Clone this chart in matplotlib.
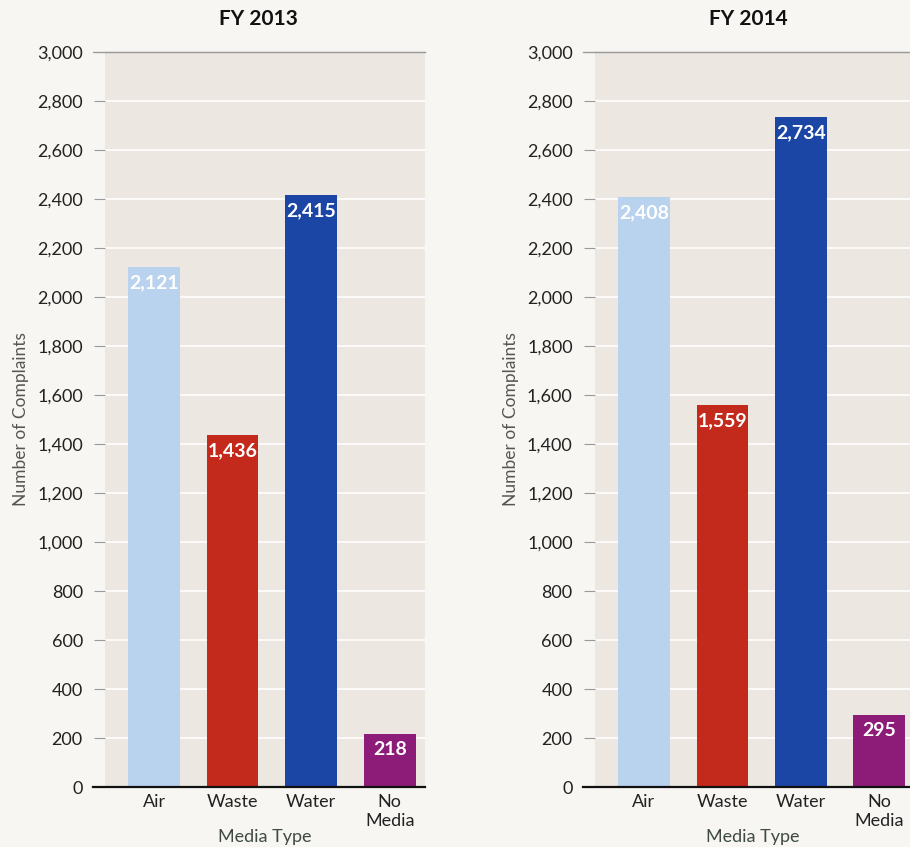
import matplotlib.pyplot as plt

plt.rcParams['font.family'] = ['Lato', 'DejaVu Sans']

categories = ['Air', 'Waste', 'Water', 'No\nMedia']
years = ['FY 2013', 'FY 2014']
complaints_2013 = [2121, 1436, 2415, 218]
complaints_2014 = [2408, 1559, 2734, 295]
bar_colors = ['#B9D3EE', '#C42A1C', '#1B46A6', '#8C1C78']
yticks = list(range(0, 3001, 200))

fig = plt.figure(figsize=(9.1, 8.47), dpi=100)
fig.patch.set_facecolor('#F8F6F2')

# axes rectangles in figure fractions (left, bottom, width, height)
rects = [[0.1154, 0.0708, 0.3516, 0.8678],
         [0.6538, 0.0708, 0.3462, 0.8678]]
title_x = [0.284, 0.822]

for i, values in enumerate([complaints_2013, complaints_2014]):
    ax = fig.add_axes(rects[i])
    ax.set_facecolor('#ECE7E1')
    xs = range(len(categories))
    bars = ax.bar(xs, values, width=0.66, color=bar_colors, zorder=3)

    # white value labels inside top of each bar
    for b, v in zip(bars, values):
        ax.annotate(f'{v:,}', (b.get_x() + b.get_width() / 2, v),
                    xytext=(0, -5), textcoords='offset points',
                    ha='center', va='top', color='white',
                    fontsize=14, fontweight='bold', zorder=4)

    ax.set_xlim(-0.624, 3.45 if i == 0 else 3.39)
    ax.set_ylim(0, 3000)
    ax.set_yticks(yticks)
    ax.set_yticklabels([f'{t:,}' for t in yticks], fontsize=13, color='#222222')
    ax.set_xticks(list(xs))
    ax.set_xticklabels(categories, fontsize=13, color='#222222', linespacing=1.25)
    ax.tick_params(axis='x', length=0, pad=5)
    ax.tick_params(axis='y', length=8, width=0.8, color='#9A9A9A', pad=8)

    # white gridlines on the beige panel
    ax.yaxis.grid(True, color='white', linewidth=1.2, zorder=1)
    ax.set_axisbelow(True)

    for s in ['left', 'right']:
        ax.spines[s].set_visible(False)
    ax.spines['top'].set_color('#9A9A9A')
    ax.spines['top'].set_linewidth(0.9)
    ax.spines['bottom'].set_visible(False)
    # baseline extends left past the tick marks
    ax.axhline(0, xmin=-0.038, xmax=1, color='#111111', linewidth=1.6,
               clip_on=False, zorder=5)
    ax.axhline(3000, xmin=-0.038, xmax=1, color='#9A9A9A', linewidth=0.9,
               clip_on=False, zorder=5)

    ax.set_ylabel('Number of Complaints', fontsize=12.5, color='#555555',
                  labelpad=6)
    ax.set_xlabel('Media Type', fontsize=13, color='#3F4A44', labelpad=0)
    fig.text(title_x[i], 0.978, years[i], ha='center', va='center',
             fontsize=15, fontweight='bold', color='#111111')

fig.savefig('out.png', dpi=100, facecolor=fig.get_facecolor())
